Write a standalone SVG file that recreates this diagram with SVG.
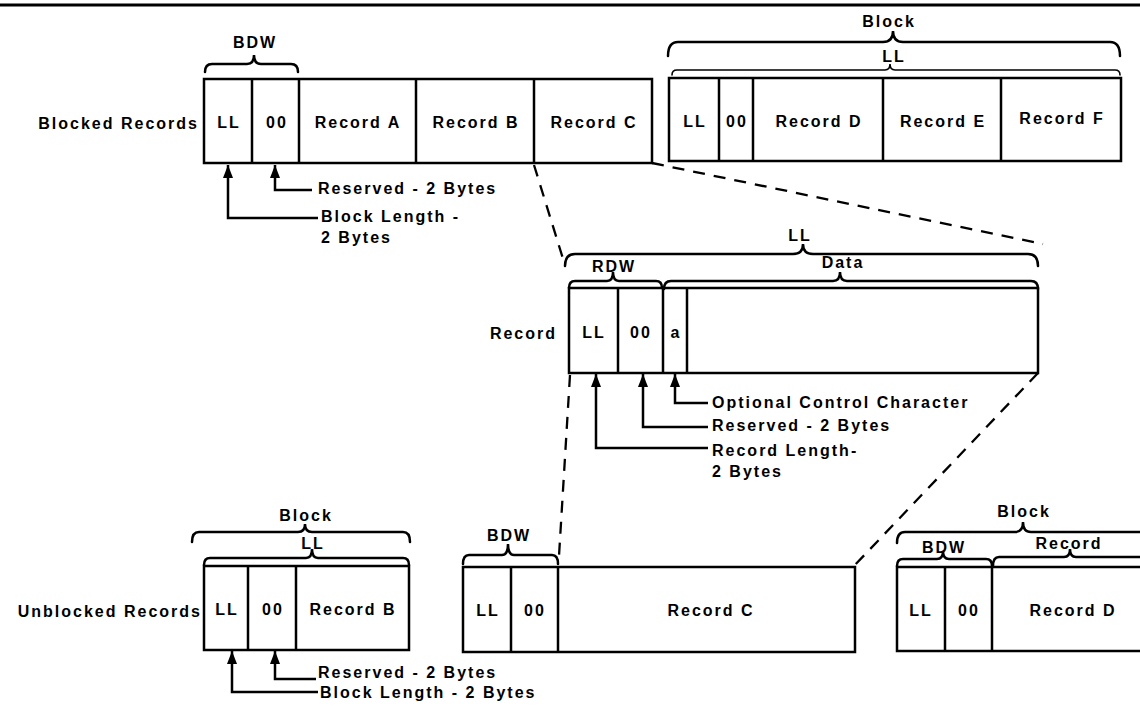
<svg xmlns="http://www.w3.org/2000/svg" width="1140" height="709" viewBox="0 0 1140 709">
<style>
text{font-family:"Liberation Sans",Arial,sans-serif;font-weight:bold;font-size:16px;letter-spacing:2px;fill:#000}
.m{text-anchor:middle}
.e{text-anchor:end}
.box{fill:#fff;stroke:#000;stroke-width:2.5}
.div{stroke:#000;stroke-width:2.5}
.brace{fill:none;stroke:#000;stroke-width:2.5;stroke-linecap:round}
.thin{stroke-width:1.6}
.arr{fill:none;stroke:#000;stroke-width:2.5;marker-start:url(#ah)}
.dash{fill:none;stroke:#000;stroke-width:2.3;stroke-dasharray:12 9}
</style>
<defs>
<marker id="ah" viewBox="0 0 13 10" refX="13" refY="5" markerUnits="userSpaceOnUse" markerWidth="13" markerHeight="10" orient="auto-start-reverse">
<path d="M0,0 L13,5 L0,10 z" fill="#000"/>
</marker>
</defs>
<rect width="1140" height="709" fill="#fff"/>
<line x1="0" y1="5" x2="1140" y2="5" stroke="#000" stroke-width="3"/>

<g id="connectors">
<path class="dash" d="M534,165 L564,262"/>
<path class="dash" d="M652,163 L1043,244"/>
<path class="dash" d="M570,375 L559,556"/>
<path class="dash" d="M1038,373 L853,567"/>
<path class="arr" d="M228,165 V218 H318"/>
<path class="arr" d="M275,165 V190 H312"/>
<path class="arr" d="M596,374 V448 H708"/>
<path class="arr" d="M643,374 V427 H708"/>
<path class="arr" d="M675,374 V403 H708"/>
<path class="arr" d="M232,651 V692 H318"/>
<path class="arr" d="M275,651 V679 H316"/>
</g>

<g id="blocked-records">
<text class="e" x="199" y="129">Blocked Records</text>
<rect class="box" x="204" y="79" width="448" height="84"/>
<line class="div" x1="252" y1="79" x2="252" y2="163"/>
<line class="div" x1="299" y1="79" x2="299" y2="163"/>
<line class="div" x1="416" y1="79" x2="416" y2="163"/>
<line class="div" x1="534" y1="79" x2="534" y2="163"/>
<text class="m" x="229" y="128">LL</text>
<text class="m" x="277" y="128">00</text>
<text class="m" x="358" y="128">Record A</text>
<text class="m" x="476" y="128">Record B</text>
<text class="m" x="594" y="128">Record C</text>
<path class="brace" d="M205,72 Q205,64 212,64 L247,64 Q254,64 254,55 Q254,64 261,64 L291,64 Q298,64 298,72"/>
<text class="m" x="255" y="48">BDW</text>
<text x="318" y="194">Reserved - 2 Bytes</text>
<text x="321" y="222">Block Length -</text>
<text x="321" y="243">2 Bytes</text>
</g>

<g id="block-2">
<rect class="box" x="669" y="78" width="452" height="83"/>
<line class="div" x1="719" y1="78" x2="719" y2="161"/>
<line class="div" x1="753" y1="78" x2="753" y2="161"/>
<line class="div" x1="883" y1="78" x2="883" y2="161"/>
<line class="div" x1="1001" y1="78" x2="1001" y2="161"/>
<text class="m" x="695" y="127">LL</text>
<text class="m" x="737" y="127">00</text>
<text class="m" x="819" y="127">Record D</text>
<text class="m" x="943" y="127">Record E</text>
<text class="m" x="1062" y="124">Record F</text>
<path class="brace" d="M668,56 Q668,42 678,42 L883,42 Q893,42 893,31 Q893,42 903,42 L1110,42 Q1120,42 1120,56"/>
<text class="m" x="889" y="27">Block</text>
<path class="brace thin" d="M672,75 Q672,70 677,70 L885,70 Q890,70 890,64 Q890,70 895,70 L1115,70 Q1120,70 1120,75"/>
<text class="m" x="894" y="62">LL</text>
</g>

<g id="record">
<text class="e" x="557" y="339">Record</text>
<rect class="box" x="569" y="288" width="469" height="85"/>
<line class="div" x1="618" y1="288" x2="618" y2="373"/>
<line class="div" x1="663" y1="288" x2="663" y2="373"/>
<line class="div" x1="687" y1="288" x2="687" y2="373"/>
<text class="m" x="594" y="338">LL</text>
<text class="m" x="641" y="338">00</text>
<text class="m" x="676" y="338">a</text>
<path class="brace" d="M565,266 Q565,254 575,254 L793,254 Q803,254 803,244 Q803,254 813,254 L1028,254 Q1038,254 1038,266"/>
<text class="m" x="800" y="241">LL</text>
<path class="brace" d="M569,288 Q569,281 575,281 L607,281 Q613,281 613,272 Q613,281 619,281 L656,281 Q662,281 662,288"/>
<text class="m" x="614" y="272">RDW</text>
<path class="brace" d="M664,289 Q664,281 671,281 L833,281 Q840,281 840,272 Q840,281 847,281 L1031,281 Q1038,281 1038,289"/>
<text class="m" x="843" y="268">Data</text>
<text x="712" y="408">Optional Control Character</text>
<text x="712" y="431">Reserved - 2 Bytes</text>
<text x="712" y="456">Record Length-</text>
<text x="712" y="477">2 Bytes</text>
</g>

<g id="unblocked-b">
<text class="e" x="202" y="617">Unblocked Records</text>
<rect class="box" x="204" y="566" width="205" height="84"/>
<line class="div" x1="248" y1="566" x2="248" y2="650"/>
<line class="div" x1="296" y1="566" x2="296" y2="650"/>
<text class="m" x="227" y="615">LL</text>
<text class="m" x="273" y="615">00</text>
<text class="m" x="353" y="615">Record B</text>
<path class="brace" d="M192,542 Q192,532 199,532 L298,532 Q305,532 305,524 Q305,532 312,532 L403,532 Q410,532 410,542"/>
<text class="m" x="306" y="521">Block</text>
<path class="brace" d="M204,565 Q204,558 210,558 L306,558 Q312,558 312,549 Q312,558 318,558 L403,558 Q409,558 409,565"/>
<text class="m" x="313" y="549">LL</text>
<text x="318" y="678">Reserved - 2 Bytes</text>
<text x="320" y="698">Block Length - 2 Bytes</text>
</g>

<g id="unblocked-c">
<rect class="box" x="463" y="567" width="392" height="85"/>
<line class="div" x1="511" y1="567" x2="511" y2="652"/>
<line class="div" x1="558" y1="567" x2="558" y2="652"/>
<text class="m" x="488" y="616">LL</text>
<text class="m" x="535" y="616">00</text>
<text class="m" x="711" y="616">Record C</text>
<path class="brace" d="M463,564 Q463,555 469,555 L502,555 Q508,555 508,544 Q508,555 514,555 L552,555 Q558,555 558,564"/>
<text class="m" x="509" y="541">BDW</text>
</g>

<g id="unblocked-d">
<rect class="box" x="897" y="567" width="260" height="84"/>
<line class="div" x1="945" y1="567" x2="945" y2="651"/>
<line class="div" x1="992" y1="567" x2="992" y2="651"/>
<text class="m" x="921" y="616">LL</text>
<text class="m" x="969" y="616">00</text>
<text class="m" x="1073" y="616">Record D</text>
<path class="brace" d="M897,543 Q897,532 905,532 L1015,532 Q1023,532 1023,522 Q1023,532 1031,532 L1160,532"/>
<text class="m" x="1024" y="517">Block</text>
<path class="brace" d="M897,566 Q897,559 903,559 L937,559 Q943,559 943,551 Q943,559 949,559 L986,559 Q992,559 992,566"/>
<text class="m" x="944" y="553">BDW</text>
<path class="brace" d="M993,566 Q993,557 999,557 L1064,557 Q1070,557 1070,549 Q1070,557 1076,557 L1160,557"/>
<text class="m" x="1069" y="549">Record</text>
</g>
</svg>
